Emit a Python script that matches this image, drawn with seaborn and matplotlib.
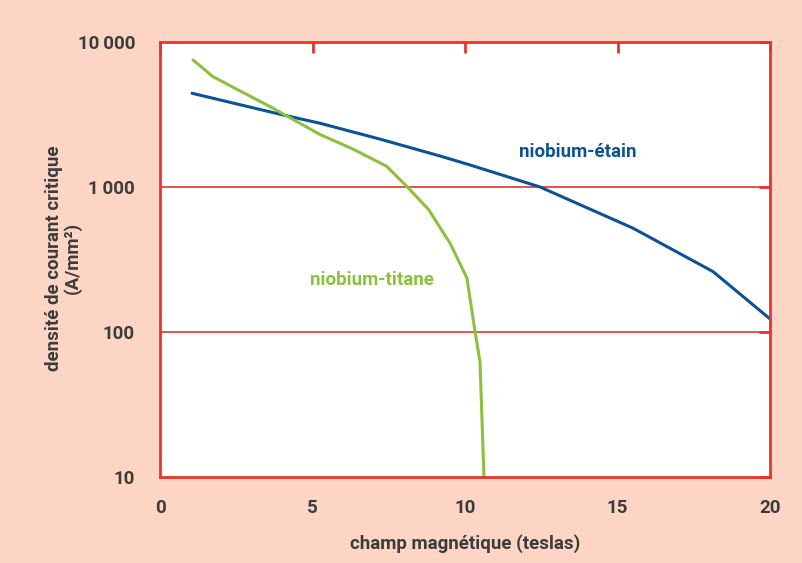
import numpy as np
import pandas as pd
import matplotlib.pyplot as plt
import matplotlib.ticker as mticker
import seaborn as sns

# --- Data ---
nb3sn_field = [1.05, 4.03, 5.25, 7.21, 9.18, 10.16, 12.46, 15.5, 18.13, 20.0]
nb3sn_jc = [4430, 3140, 2750, 2140, 1636, 1420, 1000, 521, 261, 123]

nbti_field = [1.08, 1.74, 3.61, 5.25, 6.34, 7.43, 8.09, 8.8, 9.51, 10.06, 10.33, 10.49, 10.62]
nbti_jc = [7520, 5760, 3580, 2300, 1820, 1390, 1010, 701, 409, 236, 100, 62.4, 10]

x_ticks = [0, 5, 10, 15, 20]
y_ticks = [10, 100, 1000, 10000]
y_tick_labels = ["10", "100", "1\u2009000", "10\u2009000"]

BG = "#fdd5c4"
RED = "#e8342c"
BLUE = "#0b5394"
GREEN = "#8dc03f"
TXT = "#3c3c3c"

sns.set_style("white")
plt.rcParams['font.family'] = ['Roboto', 'DejaVu Sans']

df = pd.concat([
    pd.DataFrame({'field': nb3sn_field, 'jc': nb3sn_jc, 'mat': 'niobium-étain'}),
    pd.DataFrame({'field': nbti_field, 'jc': nbti_jc, 'mat': 'niobium-titane'}),
])

fig = plt.figure(figsize=(8.03, 5.63), dpi=100, facecolor=BG)
ax = fig.add_axes([0.1993, 0.1527, 0.7597, 0.7727])
ax.set_facecolor("white")

sns.lineplot(data=df, x='field', y='jc', hue='mat', palette={'niobium-étain': BLUE, 'niobium-titane': GREEN},
             linewidth=2.2, legend=False, ax=ax, sort=False, estimator=None)

ax.set_yscale('log')
ax.set_xlim(0, 20)
ax.set_ylim(10, 10000)

# red grid lines at 100 and 1000
for v in [100, 1000]:
    ax.axhline(v, color=RED, lw=1.2, zorder=0)

for s in ax.spines.values():
    s.set_color(RED)
    s.set_linewidth(2)
    s.set_visible(True)

ax.set_xticks(x_ticks)
ax.set_yticks(y_ticks)
ax.set_yticklabels(y_tick_labels)
ax.yaxis.set_minor_locator(mticker.NullLocator())
ax.tick_params(axis='both', which='major', direction='in', color=RED, width=2, length=8,
               labelsize=13.5, labelcolor=TXT, top=True, right=True, pad=16)
ax.tick_params(axis='y', pad=18, length=8)
for lbl in ax.get_xticklabels() + ax.get_yticklabels():
    lbl.set_fontweight('bold')

ax.set_xlabel("champ magnétique (teslas)", fontsize=13.5, fontweight='bold', color=TXT, labelpad=12)
ax.set_ylabel("densité de courant critique\n(A/mm²)", fontsize=13.5, fontweight='bold', color=TXT,
              linespacing=1.0)
ax.yaxis.set_label_coords(-0.128, 0.503)

ax.text(13.7, 1742, "niobium-étain", color=BLUE, fontsize=13.5, fontweight='bold', ha='center', va='center')
ax.text(6.95, 229, "niobium-titane", color=GREEN, fontsize=13.5, fontweight='bold', ha='center', va='center')

fig.savefig("out.png", dpi=100, facecolor=BG)
